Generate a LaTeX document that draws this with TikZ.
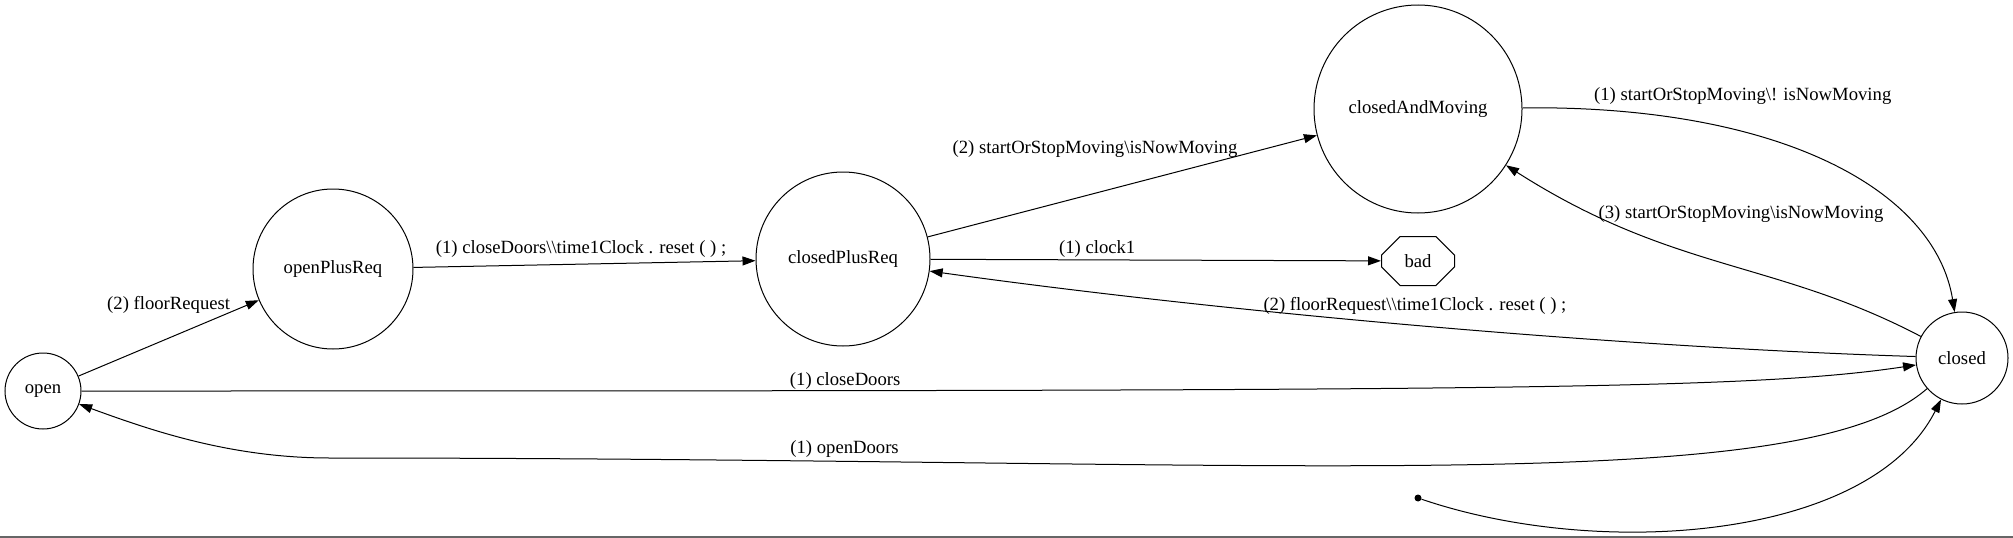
\documentclass[tikz,border=0pt]{standalone}
\usepackage{fontspec}
\setmainfont{Liberation Serif}
\usepackage{tikz}
\usetikzlibrary{
    arrows.meta,
    positioning,
    shapes.misc     % bad state (octagon) ke liye
}
\newcommand{\graphfont}{\fontsize{18.67}{22}\selectfont}
\tikzset{
    state/.style={
        circle,
        draw,
        line width=1pt,
        inner sep=0pt,
        font=\graphfont
    },
    badstate/.style={
        chamfered rectangle,
        chamfered rectangle xsep=20pt,
        chamfered rectangle ysep=12pt,
        draw,
        line width=1pt,
        minimum width=73pt,
        minimum height=49pt,
        inner sep=0pt,
        font=\graphfont
    },
    initdot/.style={
        circle,
        fill,
        inner sep=0pt,
        minimum size=7pt
    },
    trans/.style={
        -{Triangle[length=13pt, width=9pt]},
        line width=1pt
    },
    lbl/.style={
        font=\graphfont,
        inner sep=0pt
    }
}

\begin{document}
\begin{tikzpicture}[x=1pt, y=-1pt, on grid]
        \useasboundingbox (0,0) rectangle (2013,538);

        % open (doors open)
        \node [state, minimum size=76pt] (open) at (43,391) {open};

        % openPlusReq
        \node [state, minimum size=160pt, above right=122pt and 290pt of open] (openPlusReq) {openPlusReq};

        % closedPlusReq
        \node [state, minimum size=174pt, above right=10pt and 510pt of openPlusReq] (closedPlusReq) {closedPlusReq};

        % closedAndMoving
        \node [state, minimum size=208pt, above right=150pt and 575pt of closedPlusReq] (closedAndMoving) {closedAndMoving};

        % bad (error state)
        \node [badstate, below=152pt of closedAndMoving] (bad) {bad};

        % closed
        \node [state, minimum size=92pt, below right=99pt and 1119pt of closedPlusReq] (closed) {closed};

        % Initial marker
        \node [initdot, below left=140pt and 544pt of closed] (init) {};
        \coordinate [below right=67pt and 287pt of open] (doorsBend);

        % Transitions
        \draw [trans] (open) -- node [lbl, pos=0.5, yshift=33pt] {(2) floorRequest} (openPlusReq);

        \draw [trans] (openPlusReq) -- node [lbl, pos=0.49, yshift=15pt] {(1) closeDoors\textbackslash\textbackslash time1Clock . reset ( ) ;} (closedPlusReq);

        \draw [trans] (closedPlusReq) -- node [lbl, pos=0.43, yshift=44pt] {(2) startOrStopMoving\textbackslash isNowMoving} (closedAndMoving);

        \draw [trans] (closedPlusReq) -- node [lbl, pos=0.37, yshift=11pt] {(1) clock1} (bad);

        \draw [trans] (closed) .. controls +(-346,-11) and +(387,54) .. (closedPlusReq)
            node [lbl, pos=0.5, xshift=-8pt, yshift=20pt] {(2) floorRequest\textbackslash\textbackslash time1Clock . reset ( ) ;};

        \draw [trans] (closedAndMoving) .. controls +(362,-4) and +(-27,-168) .. (closed)
            node [lbl, pos=0.33, yshift=36pt] {(1) startOrStopMoving\textbackslash! isNowMoving};

        \draw [trans] (closed) .. controls +(-187,-98) and +(255,163) .. (closedAndMoving)
            node [lbl, pos=0.47, xshift=8pt, yshift=52pt] {(3) startOrStopMoving\textbackslash isNowMoving};

        \draw [trans] (open) .. controls +(1457,0) and +(-212,32) .. (closed)
            node [lbl, pos=0.215, yshift=10pt] {(1) closeDoors};

        \draw [trans] (closed) .. controls +(-162,142) and +(970,0) .. (doorsBend)
            node [lbl, pos=0.805, yshift=12pt] {(1) openDoors}
            .. controls +(-100,0) and +(107,39) .. (open);

        \draw [trans] (init) .. controls +(182,62) and +(-92,182) .. (closed);

        % Bottom frame line
        \draw [black!60, line width=1.5pt] (0,537) -- (2013,537);
    \end{tikzpicture}
\end{document}
